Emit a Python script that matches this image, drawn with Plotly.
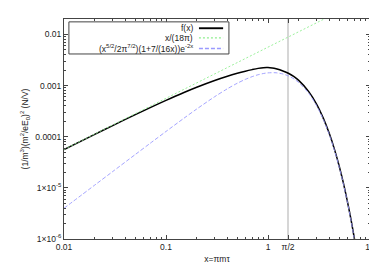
import plotly.graph_objects as go

# ---- data ----
x_f = [0.01, 0.02, 0.03, 0.05, 0.07, 0.1, 0.15, 0.2, 0.3, 0.4, 0.5, 0.6, 0.7, 0.8,
       0.9, 1.0, 1.1, 1.2, 1.4, 1.6, 1.8, 2.0, 2.5, 3.0, 3.5, 4.0, 4.5, 5.0, 5.5,
       6.0, 6.5, 7.0, 7.5]
y_f = [5.59e-5, 1.11e-4, 1.65e-4, 2.70e-4, 3.71e-4, 5.14e-4, 7.33e-4, 9.28e-4,
       1.258e-3, 1.522e-3, 1.735e-3, 1.908e-3, 2.049e-3, 2.167e-3, 2.24e-3,
       2.25e-3, 2.20e-3, 2.12e-3, 1.93e-3, 1.72e-3, 1.492e-3, 1.264e-3, 7.69e-4,
       4.30e-4, 2.26e-4, 1.138e-4, 5.53e-5, 2.61e-5, 1.206e-5, 5.46e-6, 2.44e-6,
       1.07e-6, 4.66e-7]

x_lin = [0.01, 10.0]
y_lin = [5.63e-5, 5.63e-2]

x_asy = [0.01, 0.02, 0.03, 0.05, 0.07, 0.1, 0.15, 0.2, 0.3, 0.4, 0.5, 0.6, 0.7,
         0.8, 0.9, 1.0, 1.2, 1.4, 1.6, 1.8, 2.0, 2.5, 3.0, 3.5, 4.0, 4.5, 5.0,
         5.5, 6.0, 6.5, 7.0, 7.5]
y_asy = [3.99e-6, 1.131e-5, 2.081e-5, 4.487e-5, 7.434e-5, 1.266e-4, 2.300e-4,
         3.477e-4, 6.051e-4, 8.661e-4, 1.1093e-3, 1.3212e-3, 1.4945e-3,
         1.6264e-3, 1.7173e-3, 1.7699e-3, 1.7765e-3, 1.6839e-3, 1.5292e-3,
         1.3432e-3, 1.1488e-3, 7.118e-4, 4.028e-4, 2.139e-4, 1.0834e-4,
         5.292e-5, 2.511e-5, 1.1637e-5, 5.289e-6, 2.364e-6, 1.042e-6, 4.537e-7]

names = ["f(x)", "x/(18π)",
         "(x<sup>5/2</sup>/2π<sup>7/2</sup>)(1+7/(16x))e<sup>-2x</sup>"]

x_ticks = [0.01, 0.1, 1, 1.5707963, 10]
x_ticktext = ["0.01", "0.1", "1", "π/2", "10"]
y_ticks = [1e-6, 1e-5, 1e-4, 1e-3, 1e-2]
y_ticktext = ["1×10<sup>-6</sup>", "1×10<sup>-5</sup>", "0.0001", "0.001", "0.01"]
x_marker = 1.5707963

x_minor = [m * 10 ** e for e in (-2, -1, 0) for m in range(2, 10)]
y_minor = [m * 10 ** e for e in (-6, -5, -4, -3, -2) for m in range(2, 10) if m * 10 ** e <= 0.02]

colors = ["#000000", "#90ee90", "#9a9aff"]
dashes = ["solid", "2px,2px", "4px,2px"]
widths = [1.5, 0.9, 0.9]

fig = go.Figure()
# vertical marker at pi/2
fig.add_trace(go.Scatter(x=[x_marker, x_marker], y=[1e-6, 0.02], mode="lines",
                         line=dict(color="#c8c8c8", width=1.5), showlegend=False,
                         hoverinfo="skip"))
series = [(x_f, y_f), (x_lin, y_lin), (x_asy, y_asy)]
for i, (xs, ys) in enumerate(series):
    fig.add_trace(go.Scatter(x=xs, y=ys, mode="lines", name=names[i],
                             line=dict(color=colors[i], dash=dashes[i], width=widths[i],
                                       shape="spline" if i != 1 else "linear",
                                       smoothing=0.8),
                             showlegend=False))

# manual gnuplot-style legend (text then sample on the right)
fig.add_shape(type="rect", xref="paper", yref="paper", x0=0.016, x1=0.539,
              y0=0.841, y1=0.987, line=dict(color="#444444", width=1),
              fillcolor="white", layer="above")
rows = [0.958, 0.914, 0.866]
for i in range(3):
    fig.add_annotation(xref="paper", yref="paper", x=0.428, y=rows[i], text=names[i],
                       showarrow=False, xanchor="right", yanchor="middle",
                       font=dict(size=8.5, color="#222222"))
    fig.add_shape(type="line", xref="paper", yref="paper", x0=0.441, x1=0.52,
                  y0=rows[i], y1=rows[i], layer="above",
                  line=dict(color=colors[i], dash=dashes[i], width=widths[i] + 0.4))

axis_common = dict(showline=True, linecolor="#444444", linewidth=1, mirror="allticks",
                   ticks="inside", ticklen=4, tickcolor="#444444", showgrid=False,
                   zeroline=False)
fig.update_xaxes(type="log", range=[-2, 1], tickmode="array", tickvals=x_ticks,
                 ticktext=x_ticktext,
                 minor=dict(tickvals=x_minor, ticks="inside", ticklen=2,
                            tickcolor="#444444", showgrid=False),
                 title=dict(text="x=πmτ", font=dict(size=8.5), standoff=4),
                 tickfont=dict(size=8.5), **axis_common)
fig.update_yaxes(type="log", range=[-6, -1.699], tickmode="array", tickvals=y_ticks,
                 ticktext=y_ticktext,
                 minor=dict(tickvals=y_minor, ticks="inside", ticklen=2,
                            tickcolor="#444444", showgrid=False),
                 title=dict(text="(1/m<sup>3</sup>)(m<sup>2</sup>/eE<sub>0</sub>)<sup>2</sup> (N/V)",
                            font=dict(size=8.5), standoff=5),
                 tickfont=dict(size=8.5), **axis_common)

fig.update_layout(width=377, height=264, margin=dict(l=56, r=15, t=10, b=28),
                  plot_bgcolor="white", paper_bgcolor="white",
                  font=dict(family="Liberation Sans, Arial, sans-serif", color="#222222"))

fig.write_html("out.html")
